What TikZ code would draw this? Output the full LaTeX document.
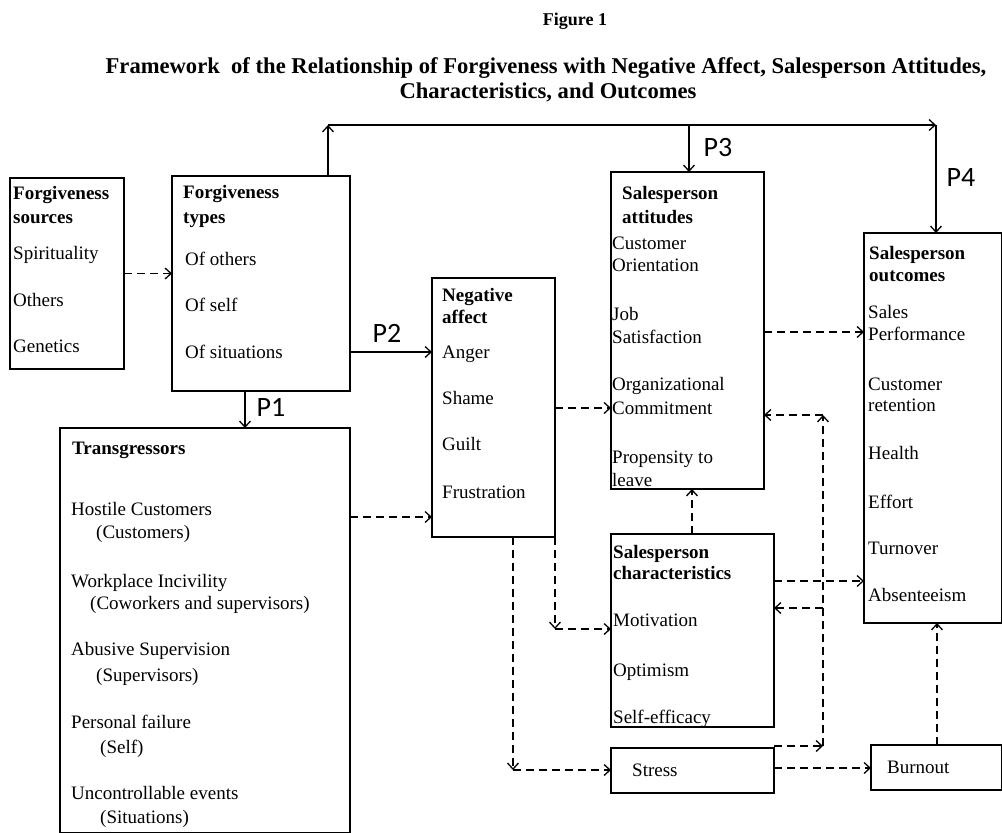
\documentclass[tikz,border=0pt]{standalone}
\usepackage{fontspec}
\setmainfont{Liberation Serif}
\newfontfamily\pfont{Carlito}
\usetikzlibrary{arrows.meta}
\begin{document}
\begin{tikzpicture}[x=1pt,y=-1pt,
  box/.style={draw, line width=1.6pt, anchor=north west, inner sep=0pt, outer sep=0pt},
  txt/.style={anchor=base west, inner sep=0pt, font=\fontsize{19}{22}\selectfont},
  hd/.style={anchor=base west, inner sep=0pt, font=\fontsize{19}{22}\selectfont\bfseries},
  plab/.style={inner sep=0pt, font=\pfont\fontsize{28}{30}\selectfont},
  ttl/.style={inner sep=0pt, anchor=base, font=\fontsize{22.6}{26}\selectfont\bfseries},
  ln/.style={line width=1.3pt, -{Straight Barb[length=6pt,width=11pt,line width=1.3pt]}},
  dln/.style={ln, dash pattern=on 8pt off 5pt},
]
\path[use as bounding box] (0,0) rectangle (1002,833);
\clip (0,0) rectangle (1002,833);

% titles
\node[inner sep=0pt, anchor=base, font=\fontsize{18}{20}\selectfont\bfseries] (fig) at (575,25) {Figure 1};
\node[ttl] (title1) at (546,73) {Framework\ \ of the Relationship of Forgiveness with Negative Affect, Salesperson Attitudes,};
\node[ttl] (title2) at (548,98) {Characteristics, and Outcomes};

% boxes
\node[box, minimum width=114pt, minimum height=191pt] (src) at (10,178) {};
\node[box, minimum width=178pt, minimum height=215pt] (types) at (172,176) {};
\node[box, minimum width=290pt, minimum height=405pt] (trans) at (60,428) {};
\node[box, minimum width=123pt, minimum height=259pt] (neg) at (432,278) {};
\node[box, minimum width=153pt, minimum height=317pt] (att) at (611,172) {};
\node[box, minimum width=138pt, minimum height=390pt] (out) at (864,233) {};
\node[box, minimum width=163pt, minimum height=193pt] (char) at (611,534) {};
\node[box, minimum width=163pt, minimum height=45pt] (stress) at (611,748) {};
\node[box, minimum width=131pt, minimum height=45pt] (burn) at (871,745) {};

% headers
\foreach \n/\px/\py/\t in {sA/13/199/Forgiveness, sB/13/223/sources,
  tA/183/198/Forgiveness, tB/183/223/types,
  nA/442/301/Negative, nB/442/323/affect,
  aA/622/199/Salesperson, aB/622/223/attitudes,
  oA/869/259/Salesperson, oB/869/281/outcomes,
  cA/613/558/Salesperson, cB/613/579/characteristics,
  rA/72/454/Transgressors}
  \node[hd] (\n) at (\px,\py) {\t};

% item texts
\foreach \n/\px/\py/\t in {s1/13/259/Spirituality, s2/13/306/Others, s3/13/352/Genetics,
  t1/185/265/Of others, t2/185/311/Of self, t3/185/358/Of situations,
  n1/442/358/Anger, n2/442/404/Shame, n3/442/450/Guilt, n4/442/498/Frustration,
  a1/612/249/Customer, a2/612/271/Orientation, a3/612/320/Job, a4/612/343/Satisfaction,
  a5/612/390/Organizational, a6/612/414/Commitment, a7/612/463/Propensity to, a8/612/486/leave,
  o1/868/318/Sales, o2/868/340/Performance, o3/868/390/Customer, o4/868/411/retention,
  o5/868/459/Health, o6/868/508/Effort, o7/868/554/Turnover, o8/868/601/Absenteeism,
  c1/613/626/Motivation, c2/613/676/Optimism, c3/613/723/Self-efficacy,
  st/632/776/Stress, bu/887/773/Burnout,
  r1/71/515/Hostile Customers, r2/96/538/(Customers),
  r3/71/587/Workplace Incivility, r4/90/609/(Coworkers and supervisors),
  r5/71/655/Abusive Supervision, r6/96/681/(Supervisors),
  r7/71/728/Personal failure, r8/100/753/(Self),
  r9/71/799/Uncontrollable events, r10/100/823/(Situations)}
  \node[txt] (\n) at (\px,\py) {\t};

% proposition labels
\node[plab] (p1) at (271,407) {P1};
\node[plab] (p2) at (387,333) {P2};
\node[plab] (p3) at (718,148) {P3};
\node[plab] (p4) at (961,178) {P4};

% helper coordinates
\coordinate (c1) at (328,125);
\coordinate (c2) at (936,125);
\coordinate (c3) at (689,125);
\coordinate (yP2) at (0,352);
\coordinate (xP1) at (245,0);
\coordinate (yTN) at (0,517);
\coordinate (yNA) at (0,408);
\coordinate (yAO) at (0,332);
\coordinate (c4) at (555,629);
\coordinate (c5) at (513,770);
\coordinate (xCA) at (692,0);
\coordinate (yCO) at (0,581);
\coordinate (c6) at (823,746);
\coordinate (c7) at (823,415);
\coordinate (c8) at (823,608);
\coordinate (ySB) at (0,768);
\coordinate (xBO) at (937,0);

% solid connectors
\draw[ln] (types.north -| c1) -- (c1);
\draw[ln] (c1) -- (c2);
\draw[ln] (c2) -- (out.north -| c2);
\draw[ln] (c3) -- (att.north -| c3);
\draw[ln] (types.east |- yP2) -- (neg.west |- yP2);
\draw[ln] (types.south -| xP1) -- (trans.north -| xP1);

% dashed connectors
\draw[dln] (src.east) -- (types.west |- src.east);
\draw[dln] (trans.east |- yTN) -- (neg.west |- yTN);
\draw[dln] (neg.east |- yNA) -- (att.west |- yNA);
\draw[dln] (att.east |- yAO) -- (out.west |- yAO);
\draw[dln] (neg.south east) -- (c4);
\draw[dln] (c4) -- (char.west |- c4);
\draw[dln] (neg.south -| c5) -- (c5);
\draw[dln] (c5) -- (stress.west |- c5);
\draw[dln] (char.north -| xCA) -- (att.south -| xCA);
\draw[dln] (char.east |- yCO) -- (out.west |- yCO);
\draw[dln] (stress.east |- c6) -- (c6);
\draw[dln] (c6) -- (c7);
\draw[dln] (c7) -- (att.east |- c7);
\draw[dln] (c8) -- (char.east |- c8);
\draw[dln] (stress.east |- ySB) -- (burn.west |- ySB);
\draw[dln] (burn.north -| xBO) -- (out.south -| xBO);
\end{tikzpicture}
\end{document}
